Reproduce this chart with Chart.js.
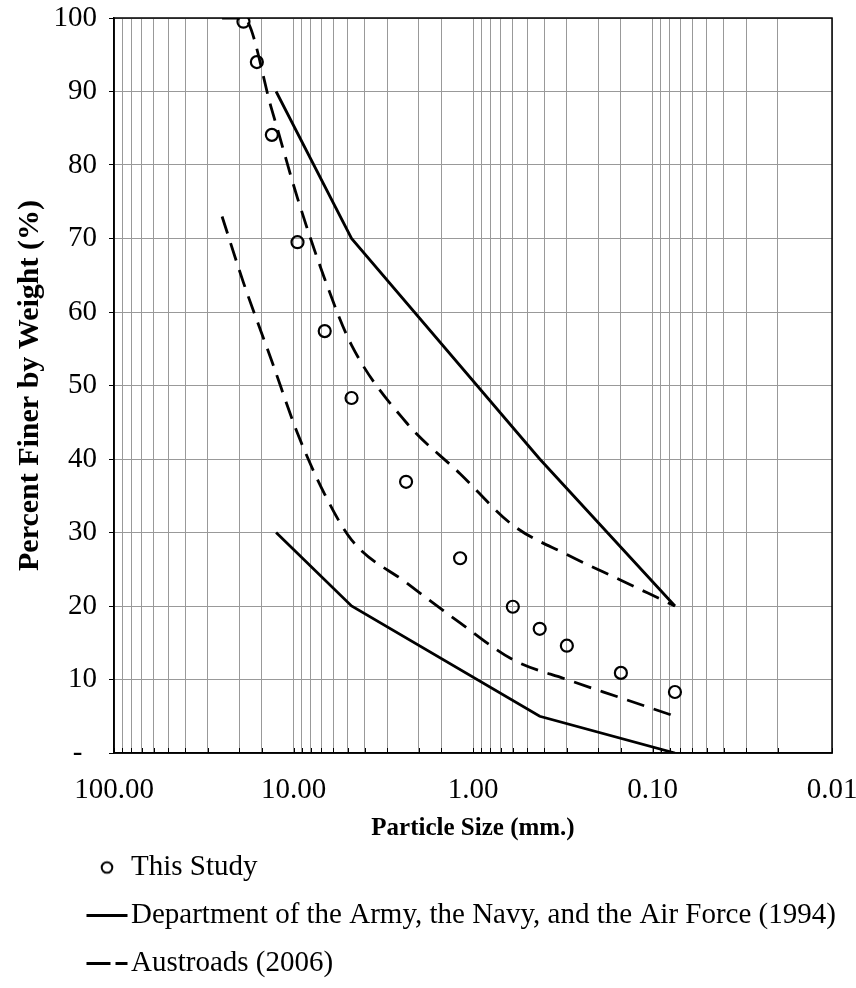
<!DOCTYPE html>
<html>
<head>
<meta charset="utf-8">
<script src="https://cdn.jsdelivr.net/npm/chart.js@4.4.1/dist/chart.umd.min.js"></script>
<style>
  html, body { margin: 0; padding: 0; background: #fff; }
  #wrap { width: 856px; height: 988px; }
</style>
</head>
<body>
<div id="wrap"><canvas id="gradChart" width="856" height="988"></canvas></div>
<script>
// sieve size (mm) vs percent passing
var studySize = [19.0, 16.0, 13.2, 9.5, 6.7, 4.75, 2.36, 1.18, 0.6, 0.425, 0.3, 0.15, 0.075];
var studyPct  = [99.5, 94.0, 84.1, 69.5, 57.4, 48.3, 36.9, 26.5, 19.9, 16.9, 14.6, 10.9, 8.3];

var armySize  = [12.5, 4.75, 0.425, 0.075];
var armyUpper = [90, 70, 40, 20];
var armyLower = [30, 20, 5, 0];

var austSize  = [25.0, 19.0, 13.2, 9.5, 6.7, 4.75, 2.36, 1.18, 0.6, 0.3, 0.15, 0.075];
var austUpper = [100, 100, 87.5, 75.5, 64.5, 55.5, 45, 38, 31, 27, 23.5, 20];
var austLower = [73, 64, 53.3, 43.5, 35.2, 29, 23.2, 17.7, 12.7, 10, 7.5, 5];

var xMajorTicks  = [100, 10, 1, 0.1, 0.01];
var xMajorLabels = ['100.00', '10.00', '1.00', '0.10', '0.01'];

var legendLabels = ['This Study', 'Department of the Army, the Navy, and the Air Force (1994)', 'Austroads (2006)'];

function pairs(xs, ys) {
  var out = [];
  for (var i = 0; i < xs.length; i++) out.push({x: xs[i], y: ys[i]});
  return out;
}

// little open circle for the legend
var circleIcon = document.createElement('canvas');
circleIcon.width = 16; circleIcon.height = 16;
var ic = circleIcon.getContext('2d');
ic.lineWidth = 2;
ic.strokeStyle = '#000';
ic.beginPath(); ic.arc(8, 8, 5.3, 0, Math.PI * 2); ic.stroke();

Chart.defaults.font.family = '"Liberation Serif", "Times New Roman", serif';
Chart.defaults.color = '#000';

var frame = {
  id: 'frame',
  afterLayout: function(chart) {
    // push legend rows to the right like the original
    chart.legend.left = 78.5;
  },
  afterDatasetsDraw: function(chart) {
    var ctx = chart.ctx, a = chart.chartArea, xs = chart.scales.x;
    ctx.save();
    ctx.strokeStyle = '#000';
    ctx.lineWidth = 1;
    xs.ticks.forEach(function(t) {
      var px = Math.round(xs.getPixelForValue(t.value)) + 0.5;
      ctx.beginPath(); ctx.moveTo(px, a.bottom); ctx.lineTo(px, a.bottom - 5); ctx.stroke();
    });
    ctx.lineWidth = 1.5;
    ctx.strokeRect(a.left, a.top, a.right - a.left, a.bottom - a.top);
    ctx.restore();
  }
};

var ctx = document.getElementById('gradChart').getContext('2d');
var chart = new Chart(ctx, {
  type: 'line',
  data: {
    datasets: [
      {
        label: legendLabels[0],
        data: pairs(studySize, studyPct),
        showLine: false,
        pointStyle: 'circle',
        pointRadius: 6,
        pointBorderWidth: 2.2,
        pointBorderColor: '#000',
        pointBackgroundColor: 'rgba(255,255,255,0)'
      },
      {
        label: legendLabels[1],
        data: pairs(armySize, armyUpper),
        borderColor: '#000', borderWidth: 2.8, pointRadius: 0, tension: 0
      },
      {
        label: legendLabels[1] + ' lower',
        data: pairs(armySize, armyLower),
        borderColor: '#000', borderWidth: 2.8, pointRadius: 0, tension: 0
      },
      {
        label: legendLabels[2],
        data: pairs(austSize, austUpper),
        borderColor: '#000', borderWidth: 2.8, borderDash: [18, 10], pointRadius: 0,
        cubicInterpolationMode: 'monotone'
      },
      {
        label: legendLabels[2] + ' lower',
        data: pairs(austSize, austLower),
        borderColor: '#000', borderWidth: 2.8, borderDash: [18, 10], pointRadius: 0,
        cubicInterpolationMode: 'monotone'
      }
    ]
  },
  options: {
    responsive: false,
    animation: false,
    layout: { padding: 0 },
    plugins: {
      tooltip: { enabled: false },
      legend: {
        position: 'bottom',
        align: 'start',
        labels: {
          usePointStyle: true,
          boxWidth: 19,
          boxHeight: 29,
          padding: 19,
          font: { size: 29 },
          color: '#000',
          generateLabels: function(c) {
            var items = Chart.defaults.plugins.legend.labels.generateLabels(c);
            return items.filter(function(it) {
              return [0, 1, 3].indexOf(it.datasetIndex) >= 0;
            }).map(function(it) {
              if (it.datasetIndex === 0) {
                it.pointStyle = circleIcon;
              } else {
                it.pointStyle = 'line';
                it.lineWidth = 2.8;
                it.strokeStyle = '#000';
                it.lineDash = it.datasetIndex === 3 ? [24, 5] : [];
              }
              return it;
            });
          }
        }
      }
    },
    scales: {
      x: {
        type: 'logarithmic',
        min: 0.01,
        max: 100,
        reverse: true,
        afterFit: function(s) { s.height = 81; s.paddingRight = 24; },
        border: { color: '#000', width: 1.5 },
        grid: { color: '#999999', lineWidth: 1, drawTicks: false },
        ticks: {
          autoSkip: false,
          maxRotation: 0,
          padding: 20,
          font: { size: 29 },
          callback: function(v) {
            for (var i = 0; i < xMajorTicks.length; i++) {
              if (Math.abs(Math.log10(v) - Math.log10(xMajorTicks[i])) < 1e-6) return xMajorLabels[i];
            }
            return '';
          }
        },
        title: {
          display: true,
          text: 'Particle Size (mm.)',
          font: { size: 25, weight: 'bold' },
          padding: { top: 0, bottom: -10 }
        }
      },
      y: {
        min: 0,
        max: 100,
        afterFit: function(s) { s.width = 114; s.paddingTop = 18; },
        border: { color: '#000', width: 1.5 },
        grid: { color: '#999999', lineWidth: 1, tickLength: 5, tickColor: '#000' },
        ticks: {
          stepSize: 10,
          padding: 12,
          font: { size: 29 },
          callback: function(v) { return v === 0 ? '-  ' : v; }
        },
        title: {
          display: true,
          text: 'Percent Finer by Weight (%)',
          font: { size: 30, weight: 'bold' },
          padding: { top: 12, bottom: 0 }
        }
      }
    }
  },
  plugins: [frame]
});
</script>
</body>
</html>
